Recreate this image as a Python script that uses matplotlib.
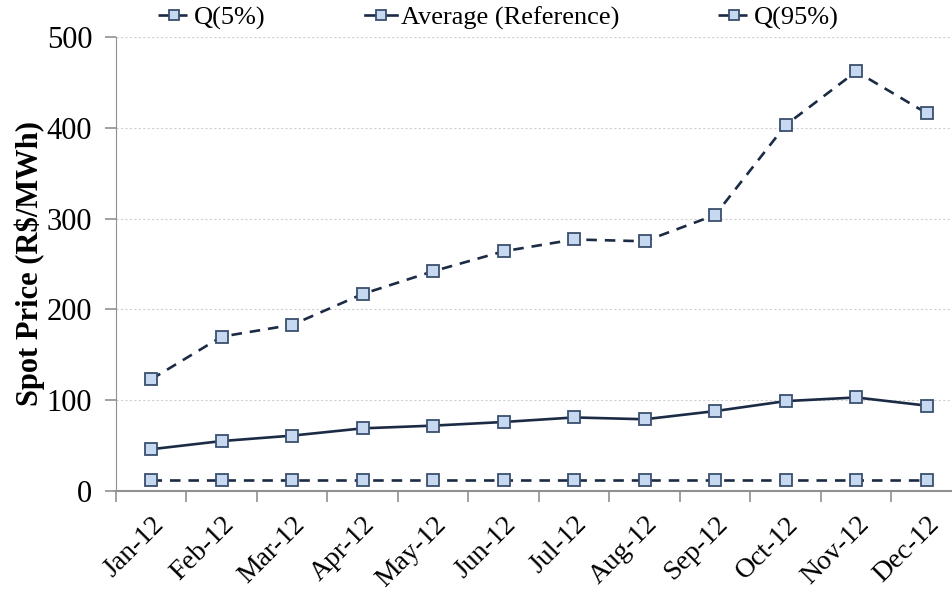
import matplotlib.pyplot as plt
from matplotlib.ticker import FixedLocator

months = ['Jan-12', 'Feb-12', 'Mar-12', 'Apr-12', 'May-12', 'Jun-12',
          'Jul-12', 'Aug-12', 'Sep-12', 'Oct-12', 'Nov-12', 'Dec-12']
q5 = [12, 12, 12, 12, 12, 12, 12, 12, 12, 12, 12, 12]
average = [46, 55, 61, 69, 72, 76, 81, 79, 88, 99, 103, 94]
q95 = [123, 170, 183, 217, 242, 264, 277, 275, 304, 403, 462, 416]

plt.rcParams['font.family'] = ['Liberation Serif', 'DejaVu Serif']

line_col = '#1c2b45'
face_col = '#c6d9f1'
edge_col = '#3a4f6e'

fig = plt.figure(figsize=(9.52, 5.99), dpi=100)
ax = fig.add_axes([0.1218, 0.1803, 0.8887, 0.758])

x = list(range(len(months)))
style = dict(color=line_col, lw=1.9, marker='s', markersize=8.5,
             markerfacecolor=face_col, markeredgecolor=edge_col, markeredgewidth=1.3)
l1, = ax.plot(x, q5, linestyle=(0, (4, 3)), label='Q(5%)', **style)
l2, = ax.plot(x, average, linestyle='-', label='Average (Reference)', **style)
l3, = ax.plot(x, q95, linestyle=(0, (4, 3)), label='Q(95%)', **style)

ax.set_xlim(-0.5, 11.5)
ax.set_ylim(0, 500)
ax.set_yticks([0, 100, 200, 300, 400, 500])
ax.yaxis.grid(True, color='#d0d0d0', linestyle=(0, (2, 2)), linewidth=0.8)
ax.set_axisbelow(True)

ax.set_xticks(x)
ax.set_xticklabels(months, rotation=45, ha='right', rotation_mode='anchor', fontsize=20)
ax.xaxis.set_minor_locator(FixedLocator([i - 0.5 for i in range(13)]))
ax.tick_params(axis='x', which='major', length=0, pad=15)
ax.tick_params(axis='x', which='minor', length=8, color='#909090', width=1.2)
ax.tick_params(axis='y', length=8, color='#909090', width=1.2, labelsize=22, pad=9)

for s in ['top', 'right']:
    ax.spines[s].set_visible(False)
ax.spines['left'].set_color('#909090')
ax.spines['bottom'].set_color('#909090')
ax.spines['bottom'].set_linewidth(1.5)

ax.set_ylabel('Spot Price (R\\$/MWh)', fontsize=22, fontweight='bold', labelpad=1)

# one legend per entry so each sits where the reference has it
for line, xpos in [(l1, 158), (l2, 365), (l3, 718)]:
    leg = fig.legend(handles=[line], loc='center left',
                     bbox_to_anchor=(xpos / 952, 1 - 18 / 599), frameon=False,
                     fontsize=19, handlelength=1.2, handletextpad=0.15,
                     markerscale=0.85, borderpad=0, borderaxespad=0)

fig.savefig('out.png', dpi=100)
